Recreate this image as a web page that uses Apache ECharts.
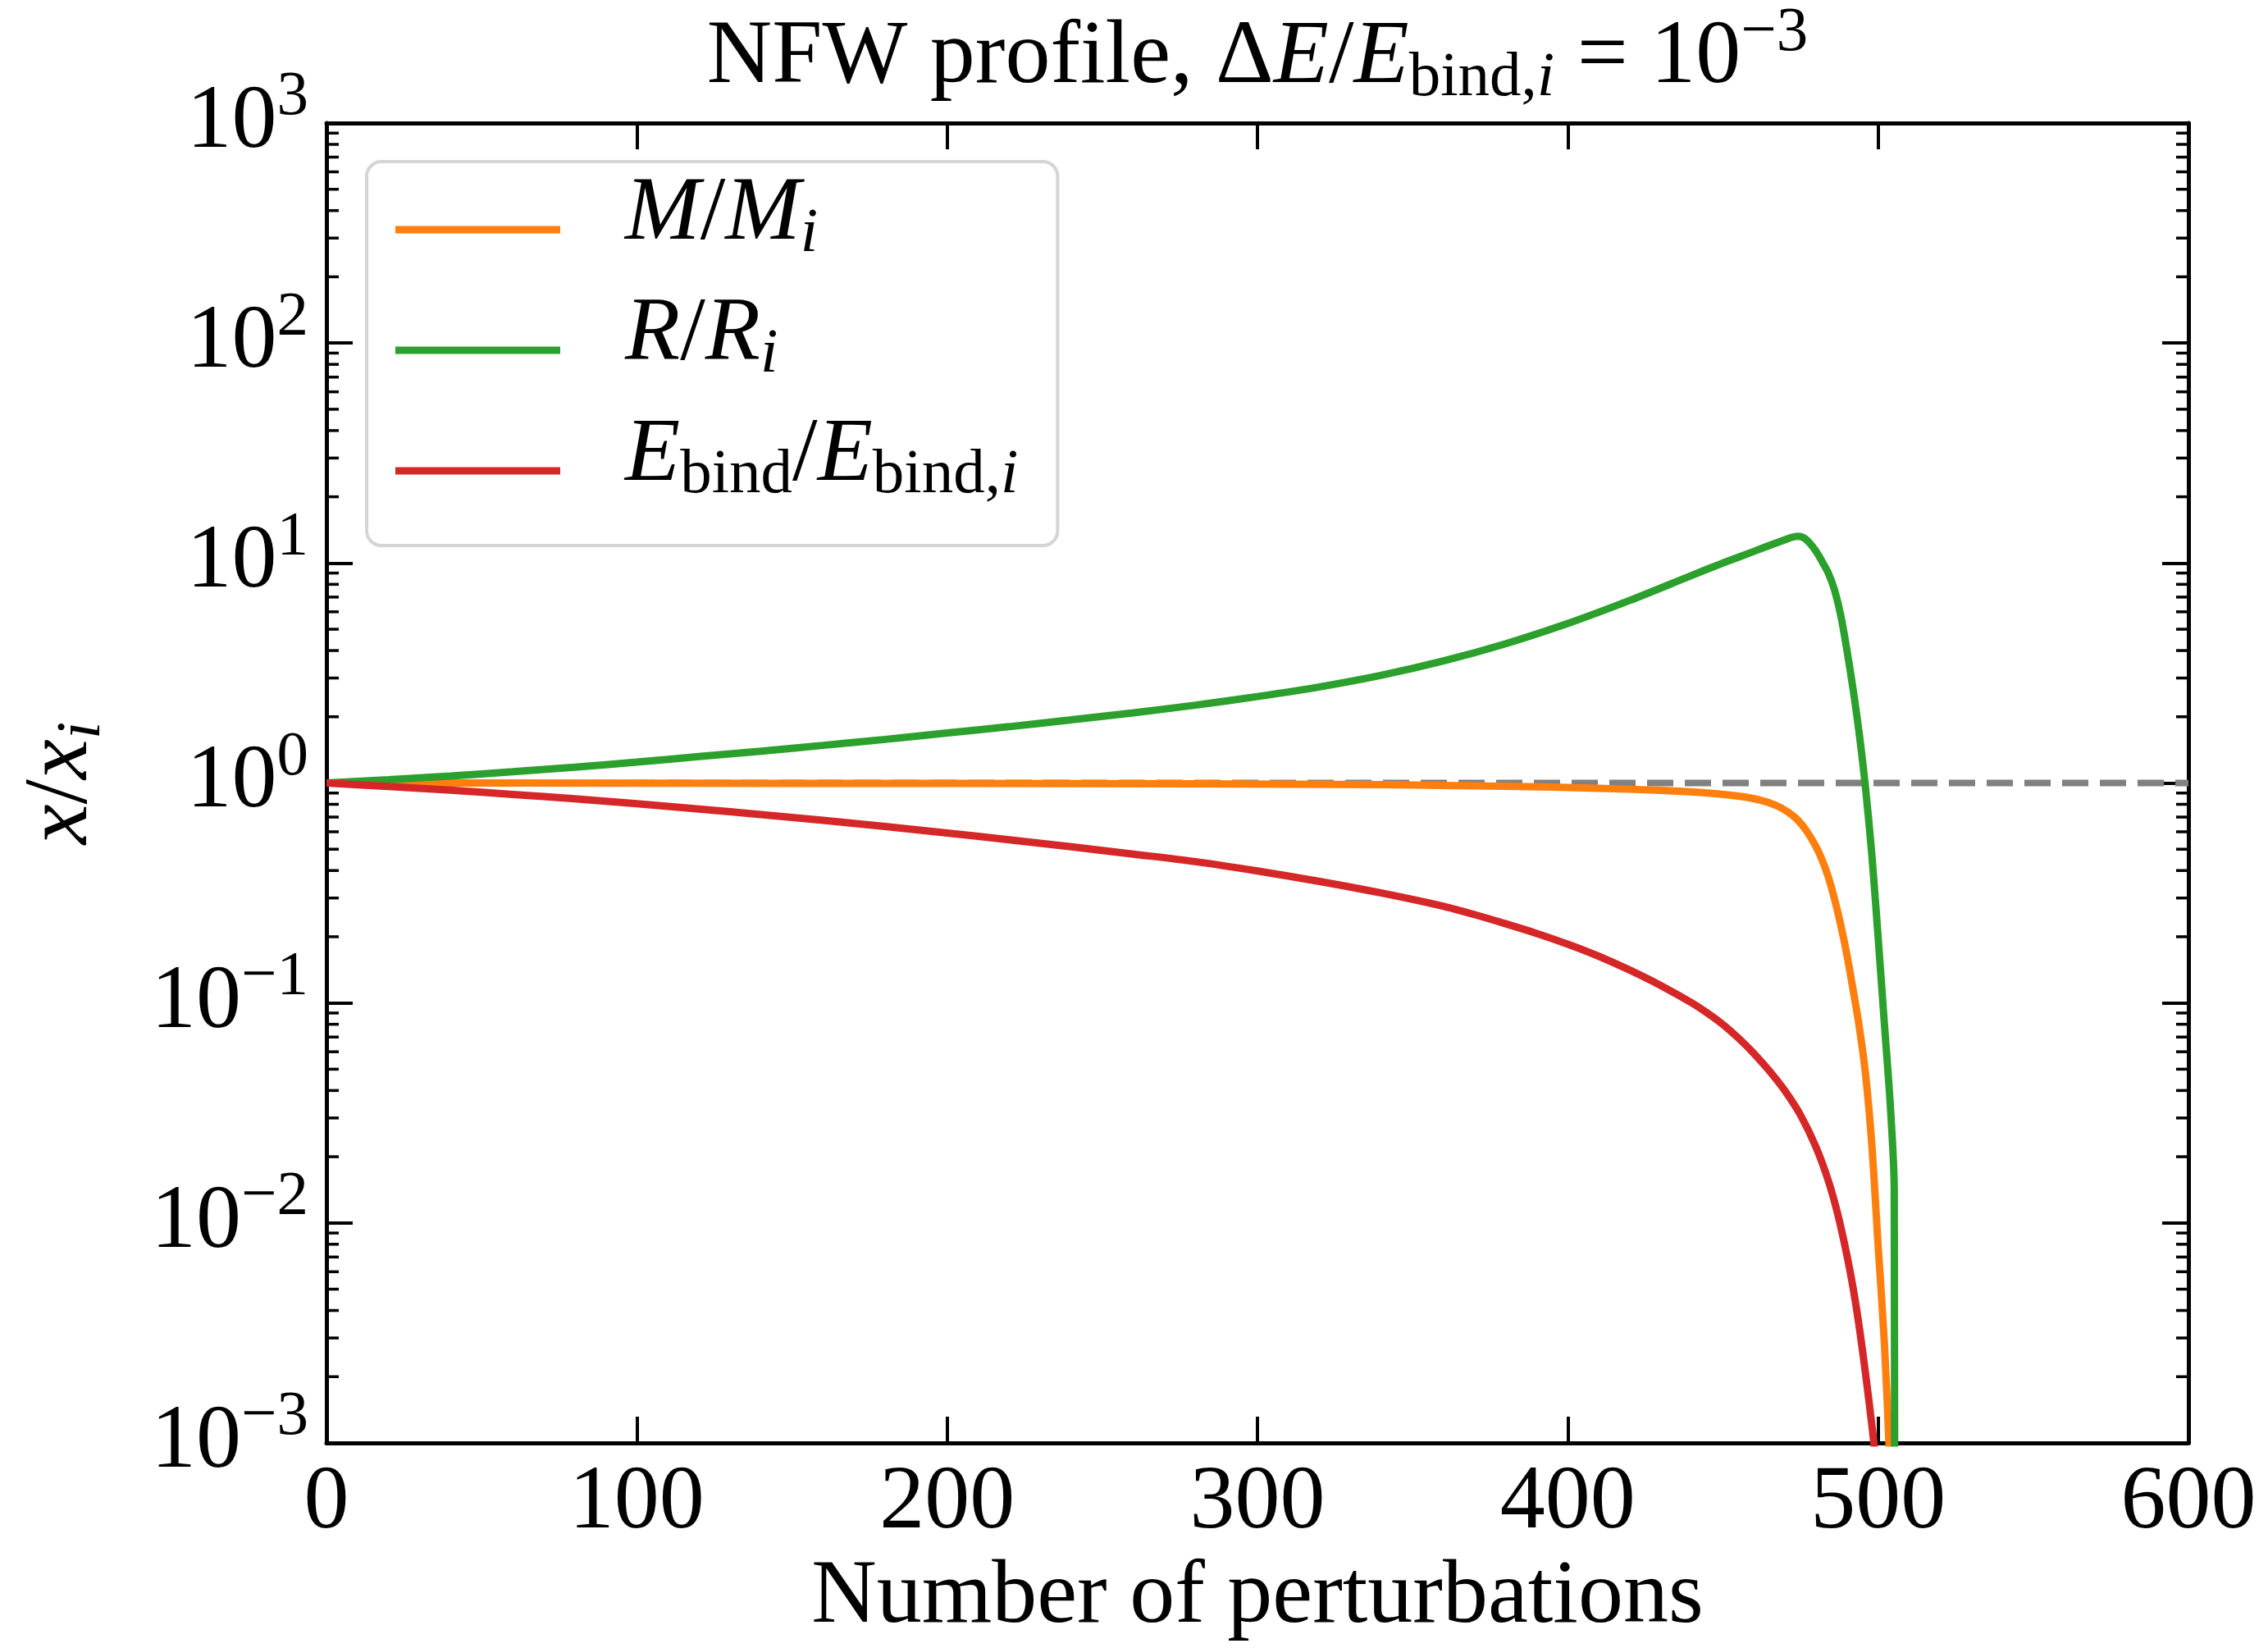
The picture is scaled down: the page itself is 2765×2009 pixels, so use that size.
<!DOCTYPE html>
<html><head><meta charset="utf-8">
<script src="https://cdn.jsdelivr.net/npm/echarts@6/dist/echarts.min.js"></script>
<style>html,body{margin:0;padding:0;background:#fff}#c{width:2765px;height:2009px}</style>
</head><body><div id="c"></div>
<script>
// ---------------- data ----------------
const massX = [0, 100, 200, 280, 340, 380, 410, 430, 445, 455, 462, 467, 471, 474, 477, 480, 482, 484, 486, 488, 490, 492, 494, 496, 498, 500, 502, 503.5, 504.5];
const massY = [1.0, 0.998, 0.995, 0.991, 0.982, 0.966, 0.946, 0.925, 0.900, 0.871, 0.836, 0.792, 0.738, 0.681, 0.604, 0.513, 0.445, 0.372, 0.295, 0.225, 0.164, 0.1135, 0.0767, 0.0468, 0.0224, 0.00794, 0.00288, 0.001, 0.0004];

const radiusX = [0, 20, 40, 60, 80, 100, 120, 140, 160, 180, 200, 220, 240, 260, 280, 300, 320, 340, 360, 380, 400, 420, 440, 450, 460, 466, 470, 472, 474, 476, 478, 480, 482, 484, 486, 488, 490, 492, 494, 496, 498, 500, 502, 504, 505.2, 505.4];
const radiusY = [1.0, 1.035, 1.076, 1.125, 1.180, 1.245, 1.318, 1.396, 1.483, 1.578, 1.687, 1.803, 1.936, 2.084, 2.259, 2.472, 2.735, 3.090, 3.589, 4.295, 5.309, 6.761, 8.790, 10.0, 11.30, 12.16, 12.76, 13.06, 13.24, 13.03, 12.30, 11.30, 10.12, 8.97, 7.50, 5.75, 3.98, 2.63, 1.64, 0.933, 0.468, 0.1995, 0.0813, 0.0331, 0.0141, 0.00001];

const ebindX = [0, 20, 40, 60, 80, 100, 120, 140, 160, 180, 200, 220, 240, 260, 280, 300, 320, 340, 360, 370, 380, 390, 400, 410, 420, 430, 440, 445, 450, 455, 460, 465, 470, 475, 480, 484, 487, 490, 492, 494, 496, 498, 499, 500];
const ebindY = [1.0, 0.964, 0.927, 0.887, 0.847, 0.805, 0.762, 0.719, 0.676, 0.634, 0.592, 0.552, 0.513, 0.475, 0.439, 0.398, 0.357, 0.316, 0.275, 0.252, 0.229, 0.207, 0.185, 0.163, 0.141, 0.120, 0.100, 0.0899, 0.0798, 0.0692, 0.0589, 0.0490, 0.0398, 0.0309, 0.0221, 0.0155, 0.01096, 0.00708, 0.00501, 0.00331, 0.00204, 0.00120, 0.00089, 0.0006];

const refX = [0, 600];
const refY = [1, 1];

const seriesNames = ['M/M_i', 'R/R_i', 'E_bind/E_bind,i'];
const xMin = 0, xMax = 600, xInterval = 100;
const yMin = 0.001, yMax = 1000;
const yDecades = [1e-3, 1e-2, 1e-1, 1, 10, 100];
const yMinorMantissas = [2, 3, 4, 5, 6, 7, 8, 9];

// ---------------- styling helpers ----------------
const FONT = 'Liberation Serif';
function makeRich(F, LH, mainC, leftPad) {
  const s = 0.7 * F;
  const base = {fontFamily: FONT, color: '#000', verticalAlign: 'top', lineHeight: LH};
  const mainPad = Math.max(0, mainC - F / 2);
  const subPad = Math.max(0, mainC + 0.22 * F - s / 2);
  const supPad = Math.max(0, mainC - 0.28 * F - s / 2);
  return {
    n:   Object.assign({}, base, {fontSize: F, height: F, padding: [mainPad, 0, 0, 0]}),
    it:  Object.assign({}, base, {fontSize: F, height: F, fontStyle: 'italic', padding: [mainPad, 0, 0, 0]}),
    itL: Object.assign({}, base, {fontSize: F, height: F, fontStyle: 'italic', padding: [mainPad, 0, 0, leftPad || 0]}),
    sub: Object.assign({}, base, {fontSize: s, height: s, padding: [subPad, 0, 0, 0]}),
    subit: Object.assign({}, base, {fontSize: s, height: s, fontStyle: 'italic', padding: [subPad, 0, 0, 0]}),
    sup: Object.assign({}, base, {fontSize: s, height: s, padding: [supPad, 0, 0, 0]})
  };
}
const F = 110;
const LH = 143;
const richStd = makeRich(F, LH, LH / 2);
const legendLH = 146;
const richLegend = makeRich(F, legendLH, legendLH / 2 - 18, 74);

const legendLabels = {
  'M/M_i': '{itL|M}{n|/}{it|M}{subit|i}',
  'R/R_i': '{itL|R}{n|/}{it|R}{subit|i}',
  'E_bind/E_bind,i': '{itL|E}{sub|bind}{n|/}{it|E}{sub|bind,}{subit|i}'
};
const colors = {'M/M_i': '#ff7f0e', 'R/R_i': '#2ca02c', 'E_bind/E_bind,i': '#d62728'};
const LW = 9;

function pairs(xs, ys) { return xs.map((x, i) => [x, ys[i]]); }
const minorVals = [];
yDecades.forEach(d => yMinorMantissas.forEach(m => minorVals.push(d * m)));

function yLabel(v) {
  const e = Math.round(Math.log10(v));
  const es = e < 0 ? '\u2212' + Math.abs(e) : String(e);
  return '{n|10}{sup|' + es + '}';
}

const axisLineStyle = {show: true, onZero: false, lineStyle: {color: '#000', width: 5}};
const tickStyle = {show: true, inside: true, length: 32, lineStyle: {color: '#000', width: 4}};

const lineCommon = {
  type: 'line', showSymbol: false, symbol: 'none', smooth: 0.3,
  clip: true, z: 3, xAxisIndex: 0, yAxisIndex: 0
};

const chart = echarts.init(document.getElementById('c'), null, {renderer: 'canvas'});
chart.setOption({
  animation: false,
  backgroundColor: '#fff',
  title: {
    text: '{n|NFW profile, \u0394}{it|E}{n|/}{it|E}{sub|bind,}{subit|i}{n| = 10}{sup|\u22123}',
    left: 1533, top: 0, padding: 0, textAlign: 'center',
    textStyle: {fontFamily: FONT, fontSize: F, lineHeight: LH, fontWeight: 'normal', color: '#000', rich: richStd}
  },
  grid: {left: 398, right: 97, top: 150, bottom: 250, containLabel: false, outerBoundsMode: 'none'},
  legend: {
    orient: 'vertical', left: 447, top: 197, padding: [10, 48, 18, 35],
    itemWidth: 201, itemHeight: LW, itemGap: 1, icon: 'rect',
    data: seriesNames, selectedMode: false,
    backgroundColor: 'rgba(255,255,255,0.8)', borderColor: '#d5d5d5', borderWidth: 4, borderRadius: 18,
    textStyle: {fontFamily: FONT, fontSize: F, lineHeight: legendLH, color: '#000', rich: richLegend},
    formatter: name => legendLabels[name]
  },
  xAxis: [
    {
      type: 'value', position: 'bottom', min: xMin, max: xMax, interval: xInterval,
      name: 'Number of perturbations', nameLocation: 'middle', nameGap: 124,
      nameTextStyle: {fontFamily: FONT, fontSize: F, lineHeight: F, color: '#000'},
      axisLine: axisLineStyle, axisTick: tickStyle,
      axisLabel: {show: true, margin: 19, fontFamily: FONT, fontSize: F, lineHeight: F, color: '#000'},
      splitLine: {show: false}
    },
    {
      type: 'value', position: 'top', min: xMin, max: xMax, interval: xInterval,
      axisLine: axisLineStyle, axisTick: tickStyle, axisLabel: {show: false}, splitLine: {show: false}
    }
  ],
  yAxis: [
    {
      type: 'log', logBase: 10, position: 'left', min: yMin, max: yMax, splitNumber: 6,
      name: '{it|x}{n|/}{it|x}{subit|i}', nameLocation: 'middle', nameGap: 250, nameRotate: 90,
      nameTextStyle: {fontFamily: FONT, fontSize: F, lineHeight: LH, color: '#000', rich: richStd},
      axisLine: axisLineStyle, axisTick: tickStyle,
      axisLabel: {show: true, margin: 22, formatter: yLabel,
        fontFamily: FONT, fontSize: F, lineHeight: LH, color: '#000', rich: richStd},
      splitLine: {show: false}, minorTick: {show: false}
    },
    {
      type: 'log', logBase: 10, position: 'right', min: yMin, max: yMax, splitNumber: 6,
      axisLine: axisLineStyle, axisTick: tickStyle, axisLabel: {show: false}, splitLine: {show: false}
    }
  ],
  series: [
    {
      type: 'line', name: 'ref', data: pairs(refX, refY), showSymbol: false, symbol: 'none',
      lineStyle: {color: '#808080', width: 8, type: [32, 14]}, z: 2, silent: true
    },
    Object.assign({}, lineCommon, {name: seriesNames[0], data: pairs(massX, massY),
      lineStyle: {color: colors[seriesNames[0]], width: LW}, itemStyle: {color: colors[seriesNames[0]]}}),
    Object.assign({}, lineCommon, {name: seriesNames[1], data: pairs(radiusX, radiusY),
      lineStyle: {color: colors[seriesNames[1]], width: LW}, itemStyle: {color: colors[seriesNames[1]]}}),
    Object.assign({}, lineCommon, {name: seriesNames[2], data: pairs(ebindX, ebindY),
      lineStyle: {color: colors[seriesNames[2]], width: LW}, itemStyle: {color: colors[seriesNames[2]]}}),
    {
      type: 'custom', name: 'minorTicks', silent: true, clip: false, z: 4,
      data: minorVals.map(v => [xMin, v]), encode: {x: 0, y: 1},
      renderItem: function (params, api) {
        const v = api.value(1);
        const L = api.coord([xMin, v]);
        const R = api.coord([xMax, v]);
        const st = {stroke: '#000', lineWidth: 3.5};
        return {type: 'group', children: [
          {type: 'line', shape: {x1: L[0], y1: L[1], x2: L[0] + 15, y2: L[1]}, style: st},
          {type: 'line', shape: {x1: R[0] - 15, y1: R[1], x2: R[0], y2: R[1]}, style: st}
        ]};
      }
    }
  ]
});
</script>
</body></html>
